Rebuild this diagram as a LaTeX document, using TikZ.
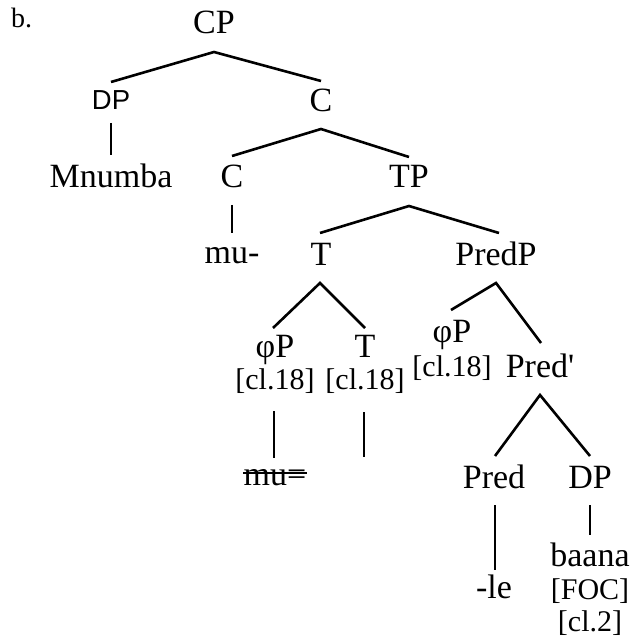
\documentclass[tikz,border=0pt]{standalone}
\usepackage{fontspec}
\setmainfont{Liberation Serif}
\newfontfamily\arialfont{Liberation Sans}
\begin{document}
\begin{tikzpicture}[x=1pt,y=-1pt,
  lbl/.style={anchor=base,inner sep=0pt,font=\fontsize{34}{36}\selectfont},
  feat/.style={anchor=base,inner sep=0pt,font=\fontsize{30}{32}\selectfont},
  sanslbl/.style={anchor=base,inner sep=0pt,font=\arialfont\fontsize{27.5}{30}\selectfont},
  edge/.style={line width=2.6pt}]
\useasboundingbox (0,0) rectangle (631,644);
\node[anchor=base west,inner sep=0pt,font=\fontsize{28}{30}\selectfont] (lab) at (11,28) {b.};
% nodes
\node[lbl] (CP) at (214,34) {CP};
\node[sanslbl] (DPa) at (111,110) {DP};
\node[lbl] (Cu) at (321,112) {C};
\node[lbl] (Mn) at (111,188) {Mnumba};
\node[lbl] (Cl) at (232,188) {C};
\node[lbl] (TP) at (409,188) {TP};
\node[lbl] (mu) at (232,263) {mu-};
\node[lbl] (T) at (321,265) {T};
\node[lbl] (PredP) at (496,265) {PredP};
\node[lbl] (phiL) at (275,357) {φP};
\node[feat] (phiLcl) at (275,389) {[cl.18]};
\node[lbl] (Tl) at (365,357) {T};
\node[feat] (Tlcl) at (365,389) {[cl.18]};
\node[lbl] (phiR) at (452,342) {φP};
\node[feat] (phiRcl) at (452,376) {[cl.18]};
\node[lbl] (Predbar) at (540,377) {Pred\textquotesingle};
\node[lbl] (muEq) at (275,485) {mu=};
\coordinate (Tend) at (364,457);
\node[lbl] (Pred) at (494,488) {Pred};
\node[lbl] (DPb) at (590,488) {DP};
\node[lbl] (le) at (494,598) {-le};
\node[lbl] (baana) at (590,566) {baana};
\node[feat] (FOC) at (590,599) {[FOC]};
\node[feat] (cl2) at (590,631) {[cl.2]};
% edges
\draw[edge] ([yshift=28pt]DPa.base) -- ([yshift=-18pt]CP.base) -- ([yshift=31pt]Cu.base);
\draw[edge] ([yshift=-13pt]DPa.base) -- ([yshift=33pt]Mn.base);
\draw[edge] ([yshift=32pt]Cl.base) -- ([yshift=-17pt]Cu.base) -- ([yshift=31pt]TP.base);
\draw[edge] ([yshift=-17pt]Cl.base) -- ([yshift=30pt]mu.base);
\draw[edge] ([yshift=32pt,xshift=-1pt]T.base) -- ([yshift=-18pt]TP.base) -- ([yshift=32pt,xshift=3pt]PredP.base);
\draw[edge] ([yshift=29pt,xshift=-2pt]phiL.base) -- ([yshift=-18pt,xshift=-1pt]T.base) -- ([yshift=29pt]Tl.base);
\draw[edge] ([yshift=32pt,xshift=-1pt]phiR.base) -- ([yshift=-18pt]PredP.base) -- ([yshift=34pt,xshift=1pt]Predbar.base);
\draw[edge] ([yshift=-22pt,xshift=-1pt]phiLcl.base) -- ([yshift=27pt,xshift=-1pt]muEq.base);
\draw[edge] ([yshift=-23pt,xshift=-1pt]Tlcl.base) -- (Tend);
\draw[edge] ([yshift=32pt,xshift=1pt]Pred.base) -- ([yshift=-18pt]Predbar.base) -- ([yshift=32pt]DPb.base);
\draw[edge] ([yshift=-17pt,xshift=1pt]Pred.base) -- ([yshift=28pt,xshift=1pt]le.base);
\draw[edge] ([yshift=-17pt]DPb.base) -- ([yshift=31pt]baana.base);
% strike-through
\draw[line width=1.6pt] ([yshift=12pt]muEq.base west) -- ([yshift=12pt]muEq.base east);
\end{tikzpicture}
\end{document}
